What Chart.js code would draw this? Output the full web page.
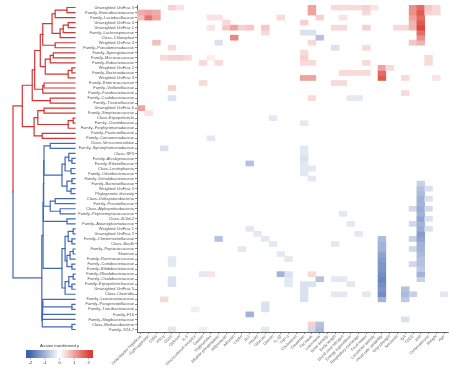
<!DOCTYPE html>
<html lang="en">
<head>
<meta charset="UTF-8" />
<title>Microbiome correlation heatmap</title>
<script src="https://cdn.jsdelivr.net/npm/chart.js@4.4.1/dist/chart.umd.min.js"></script>
<style>
  html, body { margin: 0; padding: 0; background: #fff; }
</style>
</head>
<body>
<canvas id="heat" width="450" height="368"></canvas>
<script>
// row labels, top to bottom (dendrogram order)
const rows = [
  'Unweighted UniFrac 3', 'Family–Enterobacteriaceae', 'Family–Lactobacillaceae', 'Unweighted UniFrac 4',
  'Unweighted UniFrac 1', 'Family–Lachnospiraceae', 'Class–Chloroplast', 'Weighted UniFrac 4',
  'Family–Pseudomonadaceae', 'Family–Synergistaceae', 'Family–Micrococcaceae', 'Family–Eubacteriaceae',
  'Weighted UniFrac 2', 'Family–Bacteroidaceae', 'Weighted UniFrac 3', 'Family–Enterococcaceae',
  'Family–Veillonellaceae', 'Family–Fusobacteriaceae', 'Family–Caulobacteraceae', 'Family–Tissierellaceae',
  'Unweighted UniFrac 6', 'Family–Streptococcaceae', 'Class–Erysipelotrichi', 'Family–Clostridiaceae',
  'Family–Porphyromonadaceae', 'Family–Pasteurellaceae', 'Family–Comamonadaceae', 'Class–Verrucomicrobiae',
  'Family–Syntrophomonadaceae', 'Class–RF3', 'Family–Alcaligenaceae', 'Family–Rikenellaceae',
  'Class–Lentisphaeria', 'Family–Odoribacteraceae', 'Family–Dehalobacteriaceae', 'Family–Barnesiellaceae',
  'Weighted UniFrac 5', 'Phylogenetic diversity', 'Class–Deltaproteobacteria', 'Family–Prevotellaceae',
  'Class–Alphaproteobacteria', 'Family–Peptostreptococcaceae', 'Class–4C0d-2', 'Family–Anaeroplasmataceae',
  'Weighted UniFrac 1', 'Unweighted UniFrac 2', 'Family–Christensenellaceae', 'Class–Bacilli',
  'Family–Peptococcaceae', 'Shannon', 'Family–Ruminococcaceae', 'Family–Coriobacteriaceae',
  'Family–Bifidobacteriaceae', 'Family–Rhodobacteraceae', 'Family–Oxalobacteraceae', 'Family–Erysipelotrichaceae',
  'Unweighted UniFrac 5', 'Class–Clostridia', 'Family–Leuconostocaceae', 'Family–Paraprevotellaceae',
  'Family–Turicibacteraceae', 'Family–F16', 'Family–Mogibacteriaceae', 'Class–Methanobacteria',
  'Family–S24-7'
];

// column labels, left to right
const cols = [
  'Helicobacter hepaticus', 'Hydroxyproline', 'Cd36', 'IFN-γ', 'CD25', 'Calcium', 'IL-6',
  'Glucocorticoid receptor', 'Gastrin', 'Triglycerides', 'Alkaline phosphatase', 'Adiponectin',
  'Albumin', 'Leptin', 'ALT', 'Insulin', 'Glucose', 'Ghrelin', 'IL-1β', 'TNF-α', 'Cholesterol',
  'Creatinine', 'Fat mass', 'Lean mass', 'Bone density', 'Body length', 'Blood urea nitrogen',
  'Energy expenditure', 'Respiratory exchange', 'Food intake', 'Locomotor activity',
  'Heart rate variability', 'Grip strength', 'Serotonin', 'IgA', 'TDEE', 'BMI', 'Corticosterone',
  'Weight', 'Age'
];

// non-zero cells: [row, column, arcsine transformed rho]
const cells = [
  [0, 4, 0.5], [0, 5, 0.3], [1, 0, 0.9], [1, 1, 1.0], [1, 2, 0.9], [2, 0, 0.7], [2, 1, 1.5], [2, 2, 1.0],
  [7, 2, 0.7], [10, 3, 0.4], [2, 9, 0.3], [2, 10, 0.3], [3, 11, 0.4], [4, 11, 0.6], [4, 12, 1.0],
  [4, 9, 0.3], [4, 13, 0.5], [4, 14, 0.6], [4, 16, 0.6], [5, 16, 0.4], [2, 18, 0.4], [6, 12, 1.3],
  [7, 10, -0.4], [8, 4, 0.4], [10, 4, 0.5], [10, 5, 0.5], [10, 6, 0.4], [11, 8, 0.4], [11, 10, 0.4],
  [10, 9, 0.2], [15, 8, 0.4], [16, 4, 0.5], [18, 4, -0.4], [3, 21, 0.5], [5, 21, -0.4], [9, 21, 0.4],
  [10, 21, 0.5], [11, 21, 0.4], [14, 21, 1.0], [0, 22, 1.0], [1, 22, 1.0], [2, 23, 0.5], [5, 22, -0.4],
  [6, 23, -0.8], [7, 22, 0.4], [0, 25, 0.4], [0, 26, 0.4], [0, 27, 0.4], [0, 28, 0.4], [0, 29, 0.5],
  [1, 29, 0.4], [0, 30, 0.3], [2, 26, 0.3], [4, 25, 0.4], [4, 26, 0.4], [4, 29, 0.5], [8, 25, -0.4],
  [8, 29, 0.4], [11, 22, 0.4], [11, 29, 0.4], [13, 26, 0.4], [13, 27, 0.4], [13, 28, 0.4], [13, 29, 0.4],
  [12, 31, 1.0], [13, 31, 1.6], [14, 31, 1.8], [12, 32, 0.4], [14, 22, 1.0], [15, 25, 0.4], [15, 26, 0.4],
  [14, 34, 0.4], [17, 34, 0.4], [18, 22, 0.4], [18, 27, -0.3], [18, 28, -0.3],
  [0, 35, 1.2], [1, 35, 1.2], [2, 35, 1.0], [0, 36, 1.6], [1, 36, 1.8], [2, 36, 1.6], [3, 36, 1.8],
  [4, 36, 2.0], [5, 36, 1.6], [6, 36, 1.2], [7, 36, 0.8], [0, 37, 0.6], [1, 37, 0.5], [0, 38, 0.4],
  [1, 38, 0.4], [3, 35, 0.8], [4, 35, 0.8], [4, 33, 0.4], [4, 34, 0.4], [7, 35, 0.6], [10, 37, 0.4],
  [11, 37, 0.4], [14, 38, 0.3], [20, 0, 1.0], [21, 1, 0.3], [22, 17, -0.3], [23, 21, -0.3], [26, 9, -0.3],
  [28, 3, -0.4], [28, 21, -0.3], [29, 21, -0.3], [30, 21, -0.4], [31, 14, -0.8], [31, 21, -0.3],
  [32, 21, -0.3], [32, 22, -0.3], [33, 21, -0.3], [34, 22, -0.3], [35, 36, -0.6], [36, 36, -0.8],
  [37, 36, -0.9], [38, 36, -1.0], [39, 36, -1.0], [40, 36, -1.1], [41, 36, -1.0], [42, 36, -1.2],
  [43, 36, -1.0], [44, 36, -1.1], [45, 36, -1.3], [46, 36, -1.2], [47, 36, -1.0], [48, 36, -1.0],
  [49, 36, -0.9], [50, 36, -0.8], [51, 36, -0.8], [52, 36, -0.7], [53, 36, -1.0], [54, 36, -0.6],
  [36, 37, -0.4], [38, 37, -0.4], [40, 37, -0.5], [42, 37, -0.4], [44, 37, -0.4],
  [40, 35, -0.5], [43, 35, -0.5], [46, 35, -0.6], [48, 35, -0.5], [51, 35, -0.5], [57, 35, -0.6],
  [46, 31, -0.9], [47, 31, -1.0], [48, 31, -1.0], [49, 31, -1.2], [50, 31, -1.3], [51, 31, -1.4],
  [52, 31, -1.4], [53, 31, -1.5], [54, 31, -1.6], [55, 31, -1.5], [56, 31, -1.4], [57, 31, -1.5],
  [58, 31, -1.0], [46, 10, -0.8], [44, 14, -0.3], [45, 15, -0.3], [46, 16, -0.3], [47, 17, -0.3],
  [48, 13, -0.3], [49, 18, -0.3], [50, 19, -0.3], [50, 4, -0.3], [51, 4, -0.3], [54, 4, -0.4],
  [55, 4, -0.4], [58, 3, 0.4], [60, 7, -0.2], [61, 14, -1.0], [59, 16, -0.4], [60, 16, -0.4],
  [53, 18, -1.0], [53, 19, -0.4], [54, 19, -0.3], [55, 19, -0.3], [56, 21, -0.4], [57, 21, -0.4],
  [58, 21, -0.4], [54, 23, -0.8], [54, 25, -0.3], [54, 26, -0.3], [55, 27, -0.3], [55, 21, -0.4],
  [55, 22, -0.4], [57, 25, -0.3], [57, 26, -0.3], [57, 29, -0.3], [57, 39, -0.3], [56, 34, -0.8],
  [57, 34, -0.9], [58, 34, -0.7], [62, 34, -0.4], [63, 22, 0.5], [63, 23, -0.8],
  [64, 22, -0.5], [64, 23, -0.9], [64, 4, -0.3], [64, 8, -0.2], [64, 16, -0.3], [53, 8, -0.3],
  [53, 9, 0.3], [53, 22, 0.4], [41, 26, -0.3], [43, 27, -0.3], [45, 28, -0.3], [47, 25, -0.3]
];

// colour bar ticks
const legendTicks = [-2, -1, 0, 1, 2];

// dendrogram linkage, scipy style: [a, b, height]; ids < 65 are rows, id 65 + k is merge k
const linkage = [
  [0, 1, 0.13], [65, 2, 0.32], [3, 4, 0.11], [67, 5, 0.19], [68, 6, 0.24], [66, 69, 0.37],
  [7, 8, 0.32], [70, 71, 0.52], [9, 10, 0.35], [73, 11, 0.40], [12, 13, 0.05], [75, 14, 0.11],
  [74, 76, 0.48], [72, 77, 0.56], [15, 16, 0.50], [79, 17, 0.52], [78, 80, 0.65], [18, 19, 0.40],
  [81, 82, 0.69], [20, 21, 0.50], [22, 23, 0.03], [85, 24, 0.11], [84, 86, 0.60], [25, 26, 0.53],
  [87, 88, 0.66], [83, 89, 0.85],
  [27, 28, 0.40], [30, 31, 0.05], [29, 92, 0.10], [32, 33, 0.065], [93, 94, 0.16], [34, 35, 0.05],
  [36, 37, 0.065], [96, 97, 0.13], [95, 98, 0.21], [91, 99, 0.50], [38, 39, 0.32], [40, 41, 0.24],
  [101, 102, 0.40], [100, 103, 0.505], [42, 43, 0.13], [104, 105, 0.51], [44, 45, 0.03], [46, 47, 0.05],
  [107, 108, 0.11], [48, 49, 0.03], [110, 50, 0.08], [51, 52, 0.05], [111, 112, 0.13], [109, 113, 0.16],
  [53, 54, 0.03], [55, 56, 0.05], [115, 116, 0.10], [117, 57, 0.16], [114, 118, 0.21], [106, 119, 0.515],
  [59, 60, 0.05], [58, 121, 0.52], [122, 61, 0.522], [123, 62, 0.525], [63, 64, 0.05], [124, 125, 0.528],
  [120, 126, 0.535], [90, 127, 1.0]
];
const firstBlueRow = 27;

const values = rows.map(() => cols.map(() => 0));
cells.forEach(([r, c, v]) => { values[r][c] = v; });

const BLUE = [60, 96, 172];
const RED = [219, 62, 52];
function colourFor(v) {
  if (!v) return 'rgba(0,0,0,0)';
  const t = Math.min(Math.abs(v) / 2.1, 1);
  const end = v < 0 ? BLUE : RED;
  const mix = end.map(e => Math.round(255 + (e - 255) * t));
  return 'rgb(' + mix.join(',') + ')';
}

// one floating-bar dataset per row
const datasets = rows.map((name, r) => ({
  label: name,
  data: cols.map(() => [r, r + 1]),
  backgroundColor: values[r].map(colourFor),
  borderWidth: 0,
  barPercentage: 1,
  categoryPercentage: 1,
  grouped: false
}));

const dendrogram = {
  id: 'dendrogram',
  afterDraw(chart) {
    const ctx = chart.ctx;
    const ys = chart.scales.y;
    const leafX = 75, rootX = 13;
    const hx = h => leafX - h * (leafX - rootX);
    const nodes = rows.map((_, i) => ({ x: leafX, y: ys.getPixelForValue(i + 0.5), lo: i, hi: i }));
    const red = 'rgb(214,52,52)', blue = 'rgb(66,106,182)';
    ctx.save();
    ctx.lineWidth = 1.2;
    ctx.lineCap = 'square';
    linkage.forEach(([a, b, h]) => {
      const A = nodes[a], B = nodes[b];
      const x = hx(h);
      const node = { x, y: (A.y + B.y) / 2, lo: Math.min(A.lo, B.lo), hi: Math.max(A.hi, B.hi) };
      const top = A.y < B.y ? A : B, bot = A.y < B.y ? B : A;
      if (node.hi < firstBlueRow || node.lo >= firstBlueRow) {
        ctx.strokeStyle = node.hi < firstBlueRow ? red : blue;
        ctx.beginPath();
        ctx.moveTo(top.x, top.y); ctx.lineTo(x, top.y); ctx.lineTo(x, bot.y); ctx.lineTo(bot.x, bot.y);
        ctx.stroke();
      } else {
        ctx.strokeStyle = red;
        ctx.beginPath(); ctx.moveTo(top.x, top.y); ctx.lineTo(x, top.y); ctx.lineTo(x, node.y); ctx.stroke();
        ctx.strokeStyle = blue;
        ctx.beginPath(); ctx.moveTo(x, node.y); ctx.lineTo(x, bot.y); ctx.lineTo(bot.x, bot.y); ctx.stroke();
      }
      nodes.push(node);
    });
    ctx.restore();
  }
};

const colourBar = {
  id: 'colourBar',
  afterDraw(chart) {
    const ctx = chart.ctx;
    const x0 = 26, x1 = 93, top = 350, h = 8, lo = -2.3, hi = 2.3;
    const xv = v => x0 + (v - lo) / (hi - lo) * (x1 - x0);
    ctx.save();
    for (let px = x0; px < x1; px++) {
      const v = lo + (px + 0.5 - x0) / (x1 - x0) * (hi - lo);
      ctx.fillStyle = Math.abs(v) < 0.08 ? '#fff' : colourFor(v);
      ctx.fillRect(px, top, 1, h);
    }
    ctx.fillStyle = '#333';
    ctx.font = '4px "Liberation Sans", Arial, sans-serif';
    ctx.textAlign = 'center';
    ctx.textBaseline = 'alphabetic';
    ctx.fillText('Arcsine transformed ρ', (x0 + x1) / 2, top - 3);
    ctx.textBaseline = 'top';
    ctx.strokeStyle = '#666';
    ctx.lineWidth = 0.5;
    legendTicks.forEach(t => {
      ctx.beginPath(); ctx.moveTo(xv(t), top + h); ctx.lineTo(xv(t), top + h + 1.5); ctx.stroke();
      ctx.fillText(String(t), xv(t), top + h + 2.5);
    });
    ctx.restore();
  }
};

new Chart(document.getElementById('heat'), {
  type: 'bar',
  data: { labels: cols, datasets },
  options: {
    responsive: false,
    devicePixelRatio: 1,
    animation: false,
    layout: { padding: { top: 5, right: 2, left: 0, bottom: 0 } },
    plugins: { legend: { display: false }, tooltip: { enabled: false } },
    scales: {
      x: {
        grid: { display: true, drawOnChartArea: false, offset: false, tickLength: 2, color: '#444', lineWidth: 0.6 },
        border: { display: true, color: '#444', width: 0.8 },
        ticks: {
          autoSkip: false, minRotation: 45, maxRotation: 45, padding: 0,
          color: '#666', font: { size: 4, family: '"Liberation Sans", Arial, sans-serif' }
        },
        afterFit: s => { s.height = 36; }
      },
      y: {
        type: 'linear', min: 0, max: rows.length, reverse: true,
        afterBuildTicks: s => { s.ticks = rows.map((_, i) => ({ value: i + 0.5 })); },
        grid: { display: true, drawOnChartArea: false, tickLength: 2, color: '#444', lineWidth: 0.6 },
        border: { display: true, color: '#444', width: 0.8 },
        ticks: {
          autoSkip: false, padding: 1, callback: (v, i) => rows[i],
          color: '#555', font: { size: 4, family: '"Liberation Sans", Arial, sans-serif' }
        },
        afterFit: s => { s.width = 137; }
      }
    }
  },
  plugins: [dendrogram, colourBar]
});
</script>
</body>
</html>
